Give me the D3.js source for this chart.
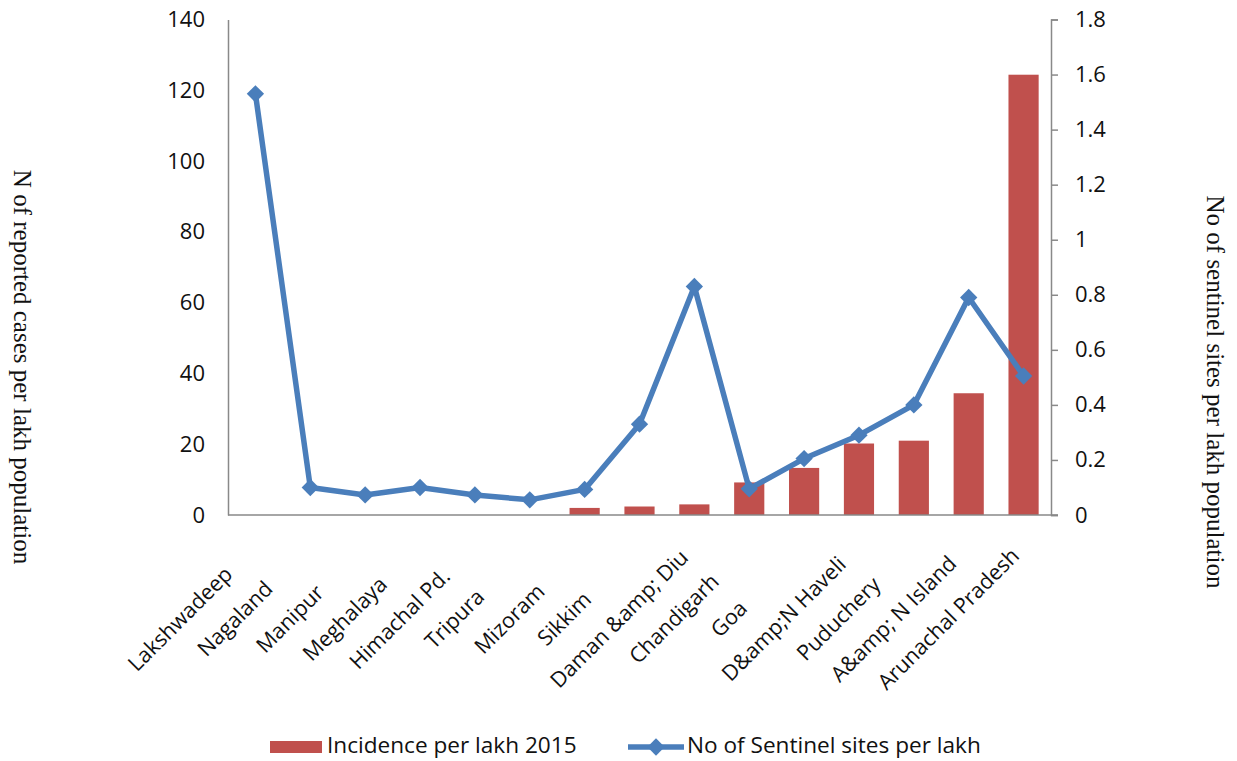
<!DOCTYPE html>
<html><head><meta charset="utf-8">
<script src="https://cdn.jsdelivr.net/npm/d3@7"></script>
<style>body{margin:0;background:#fff}svg{display:block}</style>
</head><body>
<svg id="c" width="1237" height="761"></svg>
<script>
const categories = ["Lakshwadeep","Nagaland","Manipur","Meghalaya","Himachal Pd.","Tripura","Mizoram","Sikkim","Daman &amp; Diu","Chandigarh","Goa","D&amp;N Haveli","Puduchery","A&amp; N Island","Arunachal Pradesh"];
const incidence = [null,null,null,null,null,null,2.0,2.4,3.0,9.2,13.3,20.2,21.0,34.4,124.4];
const sentinel = [1.53,0.1,0.073,0.1,0.073,0.055,0.093,0.33,0.83,0.095,0.205,0.29,0.4,0.79,0.505];
const leftTicks = [0,20,40,60,80,100,120,140];
const rightTicks = [0,0.2,0.4,0.6,0.8,1,1.2,1.4,1.6,1.8];
const seriesNames = ["Incidence per lakh 2015","No of Sentinel sites per lakh"];
const leftTitle = "N of reported cases per lakh population";
const rightTitle = "No of sentinel sites per lakh population";

const svg = d3.select("#c");
const L = 228, R = 1051, T = 19.5, B = 515;
const font = "'Open Sans', sans-serif";
const fs = 22;
const red = "#C0504D", blue = "#4A7EBB", axisCol = "#898989";

const x = d3.scaleBand().domain(categories).range([L, R]).paddingInner(0.45).paddingOuter(0.225);
const yL = d3.scaleLinear().domain([0,140]).range([B, T]);
const yR = d3.scaleLinear().domain([0,1.8]).range([B, T]);
const cx = c => x(c) + x.bandwidth()/2;

// bars
svg.append("g").selectAll("rect").data(categories.map((c,i)=>({c,v:incidence[i]})).filter(d=>d.v!=null))
  .join("rect").attr("x", d=>x(d.c)).attr("width", x.bandwidth())
  .attr("y", d=>yL(d.v)).attr("height", d=>B - yL(d.v)).attr("fill", red);

// left axis
const gl = svg.append("g").attr("transform",`translate(${L},0)`)
  .call(d3.axisLeft(yL).tickValues(leftTicks).tickSize(0).tickPadding(23).tickFormat(d3.format("d")));
gl.select(".domain").attr("stroke", axisCol).attr("stroke-width",1.5);
gl.selectAll("text").attr("font-family", font).attr("font-size", fs).attr("fill","#111");

// right axis
const gr = svg.append("g").attr("transform",`translate(${R},0)`)
  .call(d3.axisRight(yR).tickValues(rightTicks).tickSizeInner(7).tickSizeOuter(7).tickPadding(17).tickFormat(d=>String(+d.toFixed(1))));
gr.select(".domain").attr("stroke", axisCol).attr("stroke-width",1.5);
gr.selectAll("line").attr("stroke", axisCol).attr("stroke-width",1.5);
gr.selectAll("text").attr("font-family", font).attr("font-size", fs).attr("fill","#111");

// x axis baseline
const gx = svg.append("g").attr("transform",`translate(0,${B})`)
  .call(d3.axisBottom(x).tickSize(0).tickFormat(""));
gx.select(".domain").attr("stroke", axisCol).attr("stroke-width",1.5).attr("d",`M${L-0},0H${R+7}`);

// category labels
svg.append("g").selectAll("text").data(categories).join("text")
  .attr("transform", c=>`translate(${cx(c)-74},${620}) rotate(-45)`)
  .attr("text-anchor","middle").attr("dominant-baseline","middle")
  .attr("font-family", font).attr("font-size", 21.5).attr("fill","#111")
  .text(c=>c);

// line
const line = d3.line().x((d,i)=>cx(categories[i])).y(d=>yR(d));
svg.append("path").datum(sentinel).attr("d", line).attr("fill","none")
  .attr("stroke", blue).attr("stroke-width",5.5).attr("stroke-linejoin","round");
svg.append("g").selectAll("path").data(sentinel).join("path")
  .attr("transform",(d,i)=>`translate(${cx(categories[i])},${yR(d)}) rotate(45)`)
  .attr("d", d3.symbol().type(d3.symbolSquare).size(150)).attr("fill", blue);

// axis titles
svg.append("text").attr("transform",`translate(14,${367}) rotate(90)`)
  .attr("text-anchor","middle").attr("font-family","'Liberation Serif', serif").attr("font-size",25).attr("fill","#111")
  .text(leftTitle);
svg.append("text").attr("transform",`translate(1207,${392}) rotate(90)`)
  .attr("text-anchor","middle").attr("font-family","'Liberation Serif', serif").attr("font-size",25).attr("fill","#111")
  .text(rightTitle);

// legend
const lg = svg.append("g");
lg.append("rect").attr("x",270).attr("y",741).attr("width",52).attr("height",12).attr("fill",red);
lg.append("text").attr("x",327).attr("y",747).attr("dominant-baseline","middle")
  .attr("font-family",font).attr("font-size",22.6).attr("fill","#111").text(seriesNames[0]);
lg.append("line").attr("x1",628).attr("x2",684).attr("y1",747).attr("y2",747).attr("stroke",blue).attr("stroke-width",5.5);
lg.append("path").attr("transform","translate(656,747) rotate(45)").attr("d", d3.symbol().type(d3.symbolSquare).size(150)).attr("fill",blue);
lg.append("text").attr("x",687).attr("y",747).attr("dominant-baseline","middle")
  .attr("font-family",font).attr("font-size",22.6).attr("fill","#111").text(seriesNames[1]);
</script>
</body></html>
